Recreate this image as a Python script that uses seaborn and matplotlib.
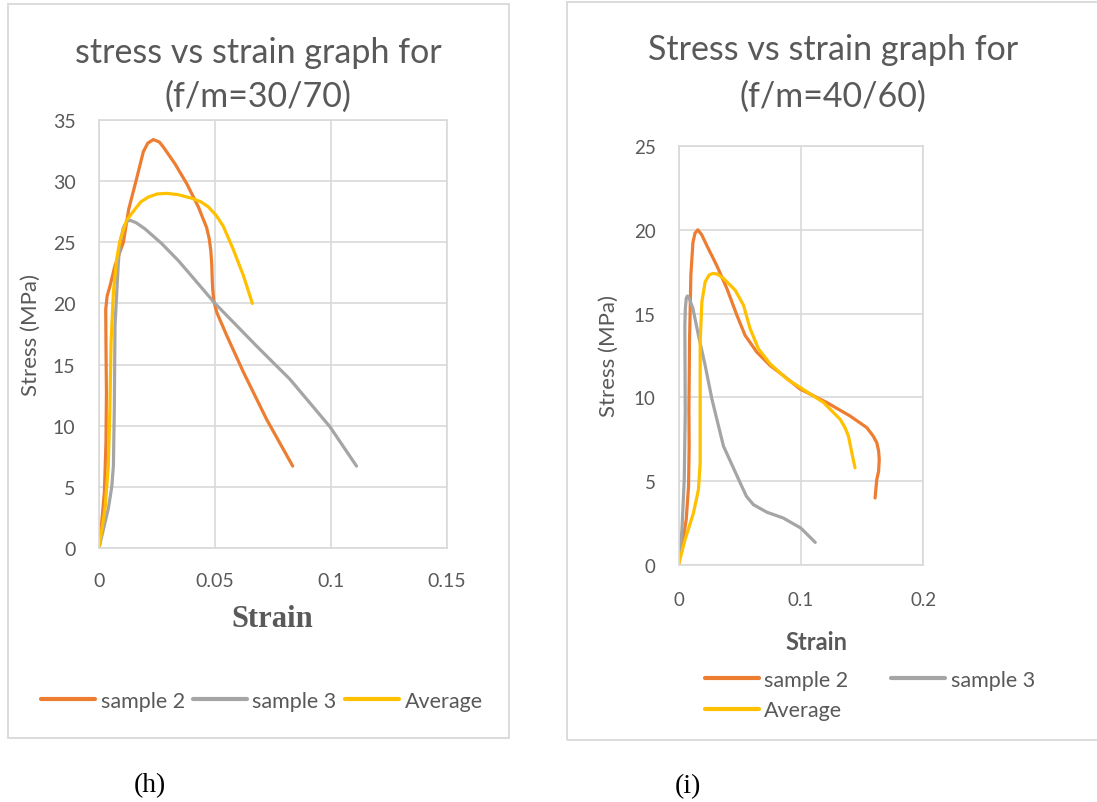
import matplotlib
matplotlib.use("Agg")
import matplotlib.pyplot as plt
from matplotlib.patches import Rectangle
import seaborn as sns
import pandas as pd

# ---- (h) f/m = 30/70 ----
h_s2_strain = [0, 0.0004, 0.0023, 0.003, 0.0032, 0.003, 0.0029, 0.0035, 0.0047, 0.0069, 0.0105,
               0.0128, 0.0162, 0.0191, 0.021, 0.0234, 0.026, 0.0277, 0.0328, 0.0378, 0.0428,
               0.0464, 0.0475, 0.0482, 0.0486, 0.0488, 0.049, 0.0495, 0.0507, 0.055, 0.0622,
               0.0723, 0.0835]
h_s2_stress = [0, 0.5, 4.5, 8.6, 12.7, 16.8, 19.5, 20.6, 21.4, 23.1, 25.0,
               27.7, 30.2, 32.4, 33.1, 33.4, 33.2, 32.8, 31.4, 29.8, 27.9,
               26.2, 25.3, 24.3, 23.2, 22.0, 21.2, 20.2, 19.3, 17.4, 14.4,
               10.5, 6.7]
h_s3_strain = [0, 0.004, 0.0055, 0.0062, 0.0066, 0.0069, 0.0083, 0.009, 0.0105, 0.012, 0.0134,
               0.016, 0.0198, 0.027, 0.0342, 0.0392, 0.05, 0.068, 0.0823, 0.0996, 0.111]
h_s3_stress = [0, 3.2, 5.0, 6.7, 11.4, 18.2, 23.2, 24.9, 26.2, 26.7, 26.8,
               26.6, 26.1, 24.9, 23.5, 22.4, 20.0, 16.5, 13.8, 9.9, 6.7]
h_avg_strain = [0, 0.0026, 0.004, 0.0047, 0.0052, 0.0062, 0.0076, 0.009, 0.0119, 0.0155,
                0.018, 0.0213, 0.025, 0.0292, 0.034, 0.04, 0.044, 0.0471, 0.0505, 0.0536,
                0.0579, 0.0622, 0.0661]
h_avg_stress = [0, 3.2, 6.7, 11.4, 16.8, 20.9, 23.6, 25.1, 26.8, 27.7,
                28.3, 28.7, 28.95, 29.0, 28.9, 28.6, 28.3, 27.9, 27.2, 26.3,
                24.4, 22.3, 20.0]

# ---- (i) f/m = 40/60 ----
i_s2_strain = [0, 0.0028, 0.0063, 0.0082, 0.0087, 0.0085, 0.0088, 0.009, 0.0101, 0.0118,
               0.0135, 0.0158, 0.019, 0.0232, 0.0313, 0.0395, 0.0477, 0.0544, 0.064, 0.0749,
               0.0857, 0.0993, 0.121, 0.14, 0.1538, 0.159, 0.162, 0.1635, 0.164, 0.1635,
               0.162, 0.1606]
i_s2_stress = [0, 1.15, 2.7, 4.7, 7.1, 9.3, 11.5, 13.3, 17.3, 19.25,
               19.8, 20.0, 19.7, 19.05, 17.86, 16.5, 14.9, 13.7, 12.7, 11.9,
               11.3, 10.5, 9.7, 8.9, 8.2, 7.7, 7.3, 6.8, 6.3, 5.6,
               5.1, 4.0]
i_s3_strain = [0, 0.0028, 0.0047, 0.0055, 0.0052, 0.0056, 0.0063, 0.0072, 0.0082, 0.0098,
               0.0118, 0.0163, 0.0218, 0.0273, 0.0367, 0.0504, 0.0555, 0.0612, 0.0722, 0.0857,
               0.1, 0.1117]
i_s3_stress = [0, 2.1, 5.1, 9.1, 14.3, 15.3, 15.9, 16.05, 16.0, 15.7,
               15.3, 13.7, 11.9, 9.9, 7.1, 4.9, 4.1, 3.6, 3.15, 2.8,
               2.2, 1.35]
i_avg_strain = [0, 0.0055, 0.0122, 0.0163, 0.0177, 0.0177, 0.0177, 0.0191, 0.0218, 0.025,
                0.0281, 0.032, 0.0367, 0.0463, 0.0531, 0.0585, 0.0653, 0.0749, 0.0885, 0.0993,
                0.1184, 0.132, 0.136, 0.1388, 0.1416, 0.1442]
i_avg_stress = [0, 1.55, 3.1, 4.5, 6.1, 9.1, 13.3, 15.7, 16.9, 17.3,
                17.4, 17.35, 17.1, 16.4, 15.5, 14.1, 12.9, 12.0, 11.1, 10.6,
                9.7, 8.7, 8.2, 7.7, 6.7, 5.8]

series_names = ["sample 2", "sample 3", "Average"]
palette = {"sample 2": "#ED7D31", "sample 3": "#A5A5A5", "Average": "#FFC000"}

h_xticks = [0, 0.05, 0.1, 0.15]
h_xticklabels = ["0", "0.05", "0.1", "0.15"]
h_yticks = [0, 5, 10, 15, 20, 25, 30, 35]
i_xticks = [0, 0.1, 0.2]
i_xticklabels = ["0", "0.1", "0.2"]
i_yticks = [0, 5, 10, 15, 20, 25]

sns.set_theme(style="whitegrid")
plt.rcParams["font.family"] = ["Lato", "DejaVu Sans"]

TXT = "#595959"
GRID = "#D9D9D9"
W, H = 1097, 803

fig = plt.figure(figsize=(W / 100, H / 100), dpi=100)
fig.patch.set_facecolor("white")


def fx(px):
    return px / W


def fy(py):
    return 1 - py / H


def frame(ax, left, right, top, bottom):
    ax.set_position([fx(left), fy(bottom), fx(right) - fx(left), fy(top) - fy(bottom)])


def long_table(parts):
    rows = []
    for name, xs, ys in parts:
        for k, (a, b) in enumerate(zip(xs, ys)):
            rows.append({"series": name, "order": k, "Strain": a, "Stress": b})
    return pd.DataFrame(rows)


def draw(ax, df, xlim, ylim, xticks, xticklabels, yticks, tick_size, ypad, xpad):
    for name in series_names:
        sub = df[df["series"] == name]
        sns.lineplot(data=sub, x="Strain", y="Stress", sort=False, estimator=None,
                     color=palette[name], linewidth=2.3, ax=ax, label=name,
                     solid_capstyle="round", solid_joinstyle="round")
    ax.set_xlim(*xlim)
    ax.set_ylim(*ylim)
    ax.set_xticks(xticks)
    ax.set_xticklabels(xticklabels)
    ax.set_yticks(yticks)
    ax.set_yticklabels([str(v) for v in yticks])
    ax.grid(True, color=GRID, linewidth=1.2)
    for s in ax.spines.values():
        s.set_color(GRID)
        s.set_linewidth(1.2)
    ax.tick_params(axis="both", length=0, labelsize=tick_size, colors=TXT)
    ax.tick_params(axis="y", pad=ypad)
    ax.tick_params(axis="x", pad=xpad)
    ax.set_xlabel("")
    ax.set_ylabel("")
    ax.get_legend().remove()
    ax.set_facecolor("white")


# chart borders
fig.patches.append(Rectangle((fx(8), fy(739)), fx(509) - fx(8), fy(5) - fy(739),
                             transform=fig.transFigure, fill=False, edgecolor=GRID, lw=1.3))
fig.patches.append(Rectangle((fx(567), fy(741)), fx(1110) - fx(567), fy(3) - fy(741),
                             transform=fig.transFigure, fill=False, edgecolor=GRID, lw=1.3))

# ---- left chart ----
ax1 = fig.add_axes([0, 0, 1, 1])
frame(ax1, 99, 447, 121, 549)
df_h = long_table([("sample 2", h_s2_strain, h_s2_stress),
                   ("sample 3", h_s3_strain, h_s3_stress),
                   ("Average", h_avg_strain, h_avg_stress)])
draw(ax1, df_h, (0, 0.15), (0, 35), h_xticks, h_xticklabels, h_yticks, 14, 17, 17)

fig.text(fx(258), fy(53), "stress vs strain graph for", ha="center", va="center",
         fontsize=24.5, color=TXT)
fig.text(fx(258), fy(97), "(f/m=30/70)", ha="center", va="center", fontsize=24.5, color=TXT)
fig.text(fx(31), fy(335), "Stress (MPa)", rotation=90, ha="center", va="center",
         fontsize=16, color=TXT)
fig.text(fx(272), fy(620), "Strain", ha="center", va="center", fontsize=22,
         fontweight="bold", color=TXT, family=["Liberation Serif", "DejaVu Serif"])

h_handles, h_labels = ax1.get_lines()[:3], series_names
leg1 = fig.legend(h_handles, h_labels, loc="center", bbox_to_anchor=(fx(262), fy(702)),
                  ncol=3, frameon=False, fontsize=15.5, handlelength=2.5, handletextpad=0.25,
                  columnspacing=0.4, labelcolor=TXT)
for ln in leg1.get_lines():
    ln.set_linewidth(3)

fig.text(fx(150), fy(786), "(h)", ha="center", va="center", fontsize=20, color="black",
         family=["Liberation Serif", "DejaVu Serif"])

# ---- right chart ----
ax2 = fig.add_axes([0, 0, 1, 1])
frame(ax2, 678.5, 923.3, 147, 566)
df_i = long_table([("sample 2", i_s2_strain, i_s2_stress),
                   ("sample 3", i_s3_strain, i_s3_stress),
                   ("Average", i_avg_strain, i_avg_stress)])
draw(ax2, df_i, (0, 0.2), (0, 25), i_xticks, i_xticklabels, i_yticks, 13.5, 16.5, 19)

fig.text(fx(833), fy(50), "Stress vs strain graph for", ha="center", va="center",
         fontsize=24.5, color=TXT)
fig.text(fx(833), fy(97), "(f/m=40/60)", ha="center", va="center", fontsize=24.5, color=TXT)
fig.text(fx(609), fy(356), "Stress (MPa)", rotation=90, ha="center", va="center",
         fontsize=16, color=TXT)
fig.text(fx(816), fy(643), "Strain", ha="center", va="center", fontsize=17,
         fontweight="bold", color=TXT)

lines2 = ax2.get_lines()[:3]
leg2 = fig.legend([lines2[0], lines2[2], lines2[1]], ["sample 2", "Average", "sample 3"],
                  loc="center", bbox_to_anchor=(fx(870), fy(696)), ncol=2, frameon=False,
                  fontsize=15.5, handlelength=2.5, handletextpad=0.25, columnspacing=2.0,
                  labelspacing=0.5, labelcolor=TXT)
for ln in leg2.get_lines():
    ln.set_linewidth(3)

fig.text(fx(688), fy(787), "(i)", ha="center", va="center", fontsize=20, color="black",
         family=["Liberation Serif", "DejaVu Serif"])

fig.savefig("out.png", dpi=100, facecolor="white")
